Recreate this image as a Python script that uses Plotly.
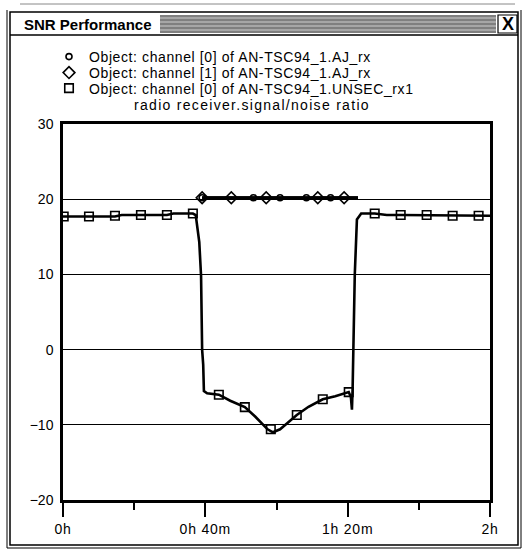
import plotly.graph_objects as go

# ---------------- data (time in minutes, SNR in dB) ----------------
unsec_t = [0, 7.3, 14.6, 16.5, 21.9, 29.2, 31.0, 36.5, 37.3, 38.3, 38.8, 39.1, 39.4, 39.6,
           40.5, 43.8, 47.0, 51.1, 54.0, 55.5, 57.5, 59.0, 61.0, 63.0, 65.7, 69.0, 73.0,
           76.5, 80.3, 80.9, 81.2, 81.4, 81.6, 82.0, 82.6, 83.8, 87.6, 91.0, 94.9, 102.2,
           106.0, 107.0, 109.5, 116.8, 120.5]
unsec_v = [17.7, 17.7, 17.7, 17.9, 17.9, 17.9, 18.1, 18.1, 17.9, 14.3, 9.8, 0.0, -2.0, -5.5,
           -5.8, -6.0, -6.8, -7.65, -8.9, -9.6, -10.6, -11.0, -10.6, -9.8, -8.7, -7.6, -6.6,
           -6.2, -5.65, -6.3, -8.0, -5.0, 0.0, 10.0, 17.3, 18.1, 18.1, 17.9, 17.9, 17.9,
           17.9, 17.8, 17.8, 17.8, 17.8]
unsec_mk_t = [0.2, 7.3, 14.6, 21.9, 29.2, 36.5, 43.8, 51.1, 58.4, 65.7, 73.0, 80.3,
              87.6, 94.9, 102.2, 109.5, 116.8]
unsec_mk_v = [17.7, 17.7, 17.8, 17.9, 17.9, 18.1, -6.0, -7.65, -10.6, -8.7, -6.6, -5.65,
              18.1, 17.9, 17.9, 17.8, 17.8]

aj0_t = [39.1, 82.9]
aj0_v = [20.2, 20.2]
aj0_mk_t = [39.1, 53.5, 61.0, 68.4, 75.2]
aj0_mk_v = [20.2, 20.2, 20.2, 20.2, 20.2]

aj1_t = [39.1, 82.9]
aj1_v = [20.2, 20.2]
aj1_mk_t = [39.1, 47.3, 57.1, 71.6, 79.0]
aj1_mk_v = [20.2, 20.2, 20.2, 20.2, 20.2]

x_tickvals = [0, 40, 80, 120]
x_ticktext = ["0h", "0h 40m", "1h 20m", "2h"]
x_minor = [20, 60, 100]
y_tickvals = [-20, -10, 0, 10, 20, 30]

names = ["Object: channel [0] of AN-TSC94_1.AJ_rx",
         "Object: channel [1] of AN-TSC94_1.AJ_rx",
         "Object: channel [0] of AN-TSC94_1.UNSEC_rx1"]
subtitle = "radio receiver.signal/noise ratio"
window_title = "SNR Performance"

# ---------------- layout geometry ----------------
W, H = 523, 550
L, R, T, B = 63, 490, 124, 500

def px(x):
    return (x - L) / (R - L)

def py(y):
    return (B - y) / (B - T)

def spaced(s, ls):
    return '<span style="letter-spacing:%.2fpx">%s</span>' % (ls, s)

FONT = "Liberation Sans, Arial, Helvetica, sans-serif"

fig = go.Figure()

# lines
fig.add_trace(go.Scatter(x=aj0_t, y=aj0_v, mode="lines", line=dict(color="black", width=3),
                         showlegend=False, hoverinfo="skip"))
fig.add_trace(go.Scatter(x=aj1_t, y=aj1_v, mode="lines", line=dict(color="black", width=3),
                         showlegend=False, hoverinfo="skip"))
fig.add_trace(go.Scatter(x=unsec_t, y=unsec_v, mode="lines", line=dict(color="black", width=2.6),
                         showlegend=False, hoverinfo="skip"))

# markers (also legend entries)
fig.add_trace(go.Scatter(x=aj0_mk_t, y=aj0_mk_v, mode="markers", name=spaced(names[0], 0.6),
                         marker=dict(symbol="circle-open", size=6, color="black",
                                     line=dict(width=1.6, color="black")),
                         legend="legend"))
fig.add_trace(go.Scatter(x=aj1_mk_t, y=aj1_mk_v, mode="markers", name=spaced(names[1], 0.6),
                         marker=dict(symbol="diamond-open", size=9, color="black",
                                     line=dict(width=1.6, color="black")),
                         legend="legend2"))
fig.add_trace(go.Scatter(x=unsec_mk_t, y=unsec_mk_v, mode="markers", name=spaced(names[2], 0.6),
                         marker=dict(symbol="square-open", size=8.5, color="black",
                                     line=dict(width=1.6, color="black")),
                         legend="legend3"))

leg_common = dict(font=dict(family=FONT, size=14, color="black"), bgcolor="rgba(0,0,0,0)",
                  xanchor="left", yanchor="middle", borderwidth=0, itemwidth=30)
legx = px(49)

P = dict(xref="paper", yref="paper")
shapes = []
# window frame
shapes.append(dict(type="rect", x0=px(10), x1=px(518), y0=py(12), y1=py(545),
                   line=dict(color="black", width=1.5), **P))
shapes.append(dict(type="line", x0=px(7), x1=px(7), y0=py(10), y1=py(548),
                   line=dict(color="black", width=1), **P))
shapes.append(dict(type="line", x0=px(521), x1=px(521), y0=py(10), y1=py(548),
                   line=dict(color="black", width=1), **P))
shapes.append(dict(type="line", x0=px(7), x1=px(521), y0=py(548), y1=py(548),
                   line=dict(color="black", width=1), **P))
shapes.append(dict(type="line", x0=px(20), x1=px(515), y0=py(4), y1=py(4),
                   line=dict(color="#888888", width=1), **P))
# title bar bottom
shapes.append(dict(type="line", x0=px(10), x1=px(518), y0=py(35), y1=py(35),
                   line=dict(color="black", width=1.5), **P))
# title bar stripes
for i, yy in enumerate([16, 18, 20, 22, 24, 26, 28, 30, 32]):
    shapes.append(dict(type="line", x0=px(160), x1=px(496), y0=py(yy), y1=py(yy),
                       line=dict(color="black", width=1.2 if i % 2 == 0 else 0.7), **P))
# close box
shapes.append(dict(type="rect", x0=px(498), x1=px(517), y0=py(15), y1=py(33),
                   line=dict(color="black", width=1.2), **P))

annotations = [
    dict(text="<b>" + window_title + "</b>", x=px(22), y=py(24.5), xref="paper", yref="paper",
         xanchor="left", yanchor="middle", showarrow=False,
         font=dict(family=FONT, size=15, color="black")),
    dict(text="<b>X</b>", x=px(507.5), y=py(24), xref="paper", yref="paper",
         xanchor="center", yanchor="middle", showarrow=False,
         font=dict(family=FONT, size=18, color="black")),
    dict(text=spaced(subtitle, 1.3), x=px(252), y=py(105), xref="paper", yref="paper",
         xanchor="center", yanchor="middle", showarrow=False,
         font=dict(family=FONT, size=14, color="black")),
]

fig.update_layout(
    width=W, height=H,
    margin=dict(l=L, r=W - R, t=T, b=H - B, pad=0),
    paper_bgcolor="white", plot_bgcolor="white",
    showlegend=True,
    legend=dict(x=legx, y=py(57), **leg_common),
    legend2=dict(x=legx, y=py(73), **leg_common),
    legend3=dict(x=legx, y=py(88.5), **leg_common),
    shapes=shapes,
    annotations=annotations,
    xaxis=dict(range=[0, 120], tickmode="array", tickvals=x_tickvals,
               ticktext=[spaced(t, 0.8) for t in x_ticktext],
               ticks="outside", ticklen=14, tickwidth=2, tickcolor="black",
               showline=True, linecolor="black", linewidth=2.5, mirror=True,
               showgrid=False, zeroline=False,
               tickfont=dict(family=FONT, size=14, color="black"),
               minor=dict(tickmode="array", tickvals=x_minor, ticks="outside", ticklen=7,
                          tickwidth=2, tickcolor="black", showgrid=False)),
    yaxis=dict(range=[-20, 30], tickmode="array", tickvals=y_tickvals,
               ticks="", showline=True, linecolor="black", linewidth=2.5, mirror=True,
               showgrid=True, gridcolor="black", gridwidth=1.3, zeroline=False,
               ticklabelstandoff=4,
               tickfont=dict(family=FONT, size=14, color="black")),
)

fig.write_html("out.html")
